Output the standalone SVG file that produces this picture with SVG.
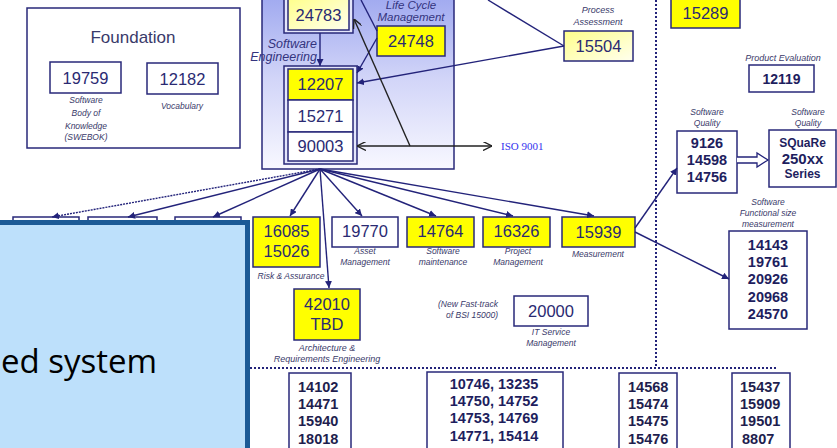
<svg xmlns="http://www.w3.org/2000/svg" width="837" height="448" viewBox="0 0 837 448">
<defs>
  <linearGradient id="seGrad" x1="0" y1="0" x2="0" y2="1">
    <stop offset="0" stop-color="#9ca6ef"/>
    <stop offset="0.5" stop-color="#d2d5f8"/>
    <stop offset="1" stop-color="#f8f8ff"/>
  </linearGradient>
  <linearGradient id="paleY" x1="0" y1="0" x2="1" y2="1">
    <stop offset="0" stop-color="#ffff8a"/>
    <stop offset="1" stop-color="#ffffee"/>
  </linearGradient>
  <marker id="ah" viewBox="0 0 10 10" refX="10" refY="5" markerWidth="7" markerHeight="7" markerUnits="userSpaceOnUse" orient="auto">
    <path d="M0,0 L10,5 L0,10 Z" fill="#23237a"/>
  </marker>
  <marker id="ao" viewBox="0 0 10 10" refX="10" refY="5" markerWidth="9" markerHeight="9" markerUnits="userSpaceOnUse" orient="auto-start-reverse">
    <path d="M0,0 L10,5 L0,10" fill="none" stroke="#222" stroke-width="1.5"/>
  </marker>
</defs>
<style>
  .bx { fill: #ffffff; stroke: #28287a; stroke-width: 1.5; }
  .yb { fill: #ffff00; stroke: #28287a; stroke-width: 1.5; }
  .py { fill: url(#paleY); stroke: #28287a; stroke-width: 1.5; }
  .num { font-family: "Liberation Sans", Arial, sans-serif; font-size: 16.5px; fill: #2a2a72; text-anchor: middle; }
  .bn { font-family: "Liberation Sans", Arial, sans-serif; font-size: 14.5px; font-weight: bold; fill: #1e1e5e; text-anchor: middle; }
  .bl { font-family: "Liberation Sans", Arial, sans-serif; font-size: 14.5px; font-weight: bold; fill: #1e1e4e; }
  .lb { font-family: "Liberation Sans", Arial, sans-serif; font-size: 8.5px; font-style: italic; fill: #3a3a6a; text-anchor: middle; }
  .lbm { font-family: "Liberation Sans", Arial, sans-serif; font-size: 11.5px; font-style: italic; fill: #34347e; text-anchor: middle; }
  .cn { fill: none; stroke: #23237a; stroke-width: 1.4; }
  .ck { fill: none; stroke: #222; stroke-width: 1.4; }
  .dot { fill: none; stroke: #23237a; stroke-width: 2; stroke-dasharray: 2 2; }
</style>

<g id="dividers">
  <line class="dot" x1="656" y1="0" x2="656" y2="368"/>
  <line class="dot" x1="250" y1="368" x2="778" y2="368"/>
</g>

<g id="foundation">
  <rect x="27" y="8" width="213" height="140" fill="#fff" stroke="#28287a" stroke-width="1.5"/>
  <text x="133" y="43" font-family="Liberation Sans, Arial, sans-serif" font-size="17" fill="#3a3a6a" text-anchor="middle">Foundation</text>
</g>
<g id="n19759">
  <rect class="bx" x="50" y="62" width="71" height="31"/>
  <text class="num" x="85.5" y="84">19759</text>
  <text class="lb" x="86" y="103">Software</text>
  <text class="lb" x="86" y="116">Body of</text>
  <text class="lb" x="86" y="129">Knowledge</text>
  <text class="lb" x="86" y="140">(SWEBOK)</text>
</g>
<g id="n12182">
  <rect class="bx" x="147" y="63" width="71" height="31"/>
  <text class="num" x="182.5" y="84.5">12182</text>
  <text class="lb" x="182" y="109">Vocabulary</text>
</g>

<g id="se-panel">
  <rect x="262" y="-10" width="192" height="179" fill="url(#seGrad)" stroke="#28287a" stroke-width="1.5"/>
  <text class="lbm" x="317" y="48" style="text-anchor:end;font-size:12.5px">Software</text>
  <text class="lbm" x="317" y="61" style="text-anchor:end;font-size:12.5px">Engineering</text>
  <text class="lbm" x="411" y="9">Life Cycle</text>
  <text class="lbm" x="411" y="21">Management</text>
</g>
<g id="n24783">
  <rect x="284" y="-5" width="69" height="38" fill="#e4e6fb" stroke="#28287a" stroke-width="1.5"/>
  <rect class="py" x="288" y="-2" width="61" height="32"/>
  <text class="num" x="318.5" y="21">24783</text>
</g>
<g id="n24748">
  <rect class="yb" x="377" y="26" width="68" height="30"/>
  <text class="num" x="411" y="47">24748</text>
</g>
<g id="stack">
  <rect x="284" y="66" width="73" height="98" fill="#e4e6fb" stroke="#28287a" stroke-width="1.5"/>
  <rect class="yb" x="288" y="69" width="65" height="31"/>
  <text class="num" x="320.5" y="90">12207</text>
  <rect class="bx" x="288" y="100" width="65" height="32"/>
  <text class="num" x="320.5" y="122">15271</text>
  <rect class="bx" x="288" y="132" width="65" height="29"/>
  <text class="num" x="320.5" y="152">90003</text>
</g>
<g id="iso9001">
  <text x="501" y="150" font-family="Liberation Serif, Times New Roman, serif" font-size="11" fill="#3333ee">ISO 9001</text>
</g>
<g id="n15504">
  <rect class="py" x="564" y="31" width="69" height="30"/>
  <text class="num" x="598.5" y="52">15504</text>
  <text class="lb" x="598" y="13" style="font-size:9px">Process</text>
  <text class="lb" x="598" y="25" style="font-size:9px">Assessment</text>
</g>
<g id="n15289">
  <rect class="yb" x="671" y="-5" width="69" height="33"/>
  <text class="num" x="705.5" y="19">15289</text>
</g>
<g id="n12119">
  <text class="lb" x="783" y="61" style="font-size:9px">Product Evaluation</text>
  <rect class="bx" x="749" y="65" width="65" height="27"/>
  <text class="bn" x="781.5" y="83.5" style="font-size:14px">12119</text>
</g>
<g id="swquality">
  <text class="lb" x="707" y="115">Software</text>
  <text class="lb" x="707" y="126">Quality</text>
  <rect class="bx" x="677" y="131" width="60" height="62"/>
  <text class="bn" x="707" y="148">9126</text>
  <text class="bn" x="707" y="165">14598</text>
  <text class="bn" x="707" y="182">14756</text>
</g>
<g id="square">
  <text class="lb" x="808" y="115">Software</text>
  <text class="lb" x="808" y="126">Quality</text>
  <rect class="bx" x="769" y="130" width="67" height="57"/>
  <text class="bn" x="802.5" y="147" style="font-size:12px">SQuaRe</text>
  <text class="bn" x="802.5" y="164" style="font-size:15px">250xx</text>
  <text class="bn" x="802.5" y="178" style="font-size:12px">Series</text>
</g>
<g id="fsm">
  <text class="lb" x="768" y="205">Software</text>
  <text class="lb" x="768" y="216">Functional size</text>
  <text class="lb" x="768" y="227">measurement</text>
  <rect class="bx" x="729" y="231" width="78" height="98"/>
  <text class="bn" x="768" y="250">14143</text>
  <text class="bn" x="768" y="267">19761</text>
  <text class="bn" x="768" y="284">20926</text>
  <text class="bn" x="768" y="302">20968</text>
  <text class="bn" x="768" y="319">24570</text>
</g>

<g id="hidden-left">
  <rect class="bx" x="13" y="217" width="66" height="30"/>
  <rect class="bx" x="88" y="217" width="69" height="30"/>
  <rect class="bx" x="175" y="217" width="66" height="30"/>
</g>
<g id="n16085">
  <rect class="yb" x="253" y="217" width="67" height="50"/>
  <text class="num" x="286.5" y="237">16085</text>
  <text class="num" x="286.5" y="257">15026</text>
  <text class="lb" x="291" y="279">Risk &amp; Assurance</text>
</g>
<g id="n19770">
  <rect class="bx" x="332" y="217" width="66" height="30"/>
  <text class="num" x="365" y="237">19770</text>
  <text class="lb" x="365" y="254">Asset</text>
  <text class="lb" x="365" y="265">Management</text>
</g>
<g id="n14764">
  <rect class="yb" x="407" y="217" width="67" height="30"/>
  <text class="num" x="440.5" y="237">14764</text>
  <text class="lb" x="443" y="254">Software</text>
  <text class="lb" x="443" y="265">maintenance</text>
</g>
<g id="n16326">
  <rect class="yb" x="483" y="217" width="67" height="30"/>
  <text class="num" x="516.5" y="237">16326</text>
  <text class="lb" x="518" y="254">Project</text>
  <text class="lb" x="518" y="265">Management</text>
</g>
<g id="n15939">
  <rect class="yb" x="562" y="217" width="73" height="30"/>
  <text class="num" x="598.5" y="238">15939</text>
  <text class="lb" x="598" y="257">Measurement</text>
</g>
<g id="n42010">
  <rect class="yb" x="294" y="289" width="66" height="51"/>
  <text class="num" x="327" y="310">42010</text>
  <text class="num" x="327" y="330">TBD</text>
  <text class="lb" x="327" y="351" style="font-size:9px">Architecture &amp;</text>
  <text class="lb" x="327" y="362" style="font-size:9px">Requirements Engineering</text>
</g>
<g id="fasttrack">
  <text class="lb" x="498" y="307" style="text-anchor:end">(New Fast-track</text>
  <text class="lb" x="498" y="318" style="text-anchor:end">of BSI 15000)</text>
</g>
<g id="n20000">
  <rect class="bx" x="514" y="296" width="74" height="30"/>
  <text class="num" x="551" y="316.5">20000</text>
  <text class="lb" x="551" y="335">IT Service</text>
  <text class="lb" x="551" y="346">Management</text>
</g>

<g id="b14102">
  <rect class="bx" x="289" y="373" width="62" height="90"/>
  <text class="bl" x="298" y="392">14102</text>
  <text class="bl" x="298" y="409">14471</text>
  <text class="bl" x="298" y="426">15940</text>
  <text class="bl" x="298" y="444">18018</text>
</g>
<g id="b10746">
  <rect class="bx" x="427" y="372" width="136" height="90"/>
  <text class="bn" x="494" y="389">10746, 13235</text>
  <text class="bn" x="494" y="406">14750, 14752</text>
  <text class="bn" x="494" y="423">14753, 14769</text>
  <text class="bn" x="494" y="441">14771, 15414</text>
</g>
<g id="b14568">
  <rect class="bx" x="619" y="373" width="58" height="90"/>
  <text class="bl" x="628" y="392">14568</text>
  <text class="bl" x="628" y="409">15474</text>
  <text class="bl" x="628" y="426">15475</text>
  <text class="bl" x="628" y="444">15476</text>
</g>
<g id="b15437">
  <rect class="bx" x="732" y="373" width="58" height="90"/>
  <text class="bl" x="740" y="392">15437</text>
  <text class="bl" x="740" y="409">15909</text>
  <text class="bl" x="740" y="426">19501</text>
  <text class="bl" x="742" y="444">8807</text>
</g>

<g id="connectors">
  <line class="cn" x1="320" y1="33" x2="320" y2="66" marker-end="url(#ah)"/>
  <line class="cn" x1="377" y1="38" x2="357" y2="73" marker-end="url(#ah)"/>
  <line class="cn" x1="564" y1="46" x2="357" y2="83" marker-end="url(#ah)"/>
  <line class="cn" x1="564" y1="46" x2="488" y2="0"/>
  <line class="cn" x1="361" y1="0" x2="377" y2="31"/>
  <line class="ck" x1="410" y1="146" x2="354" y2="19" marker-end="url(#ao)"/>
  <line class="ck" x1="357" y1="146" x2="492" y2="146" marker-start="url(#ao)" marker-end="url(#ao)"/>
  <line class="cn" x1="320" y1="169" x2="52" y2="217" stroke-dasharray="2 1" marker-end="url(#ah)"/>
  <line class="cn" x1="320" y1="169" x2="128" y2="217" marker-end="url(#ah)"/>
  <line class="cn" x1="320" y1="169" x2="213" y2="217" marker-end="url(#ah)"/>
  <line class="cn" x1="320" y1="169" x2="290" y2="216" marker-end="url(#ah)"/>
  <line class="cn" x1="320" y1="169" x2="329" y2="288" marker-end="url(#ah)"/>
  <line class="cn" x1="320" y1="169" x2="362" y2="216" marker-end="url(#ah)"/>
  <line class="cn" x1="320" y1="169" x2="436" y2="216" marker-end="url(#ah)"/>
  <line class="cn" x1="320" y1="169" x2="513" y2="216" marker-end="url(#ah)"/>
  <line class="cn" x1="320" y1="169" x2="594" y2="216" marker-end="url(#ah)"/>
  <line class="cn" x1="635" y1="228" x2="677" y2="168" marker-end="url(#ah)"/>
  <line class="cn" x1="635" y1="232" x2="729" y2="279" marker-end="url(#ah)"/>
  <path d="M737,157 H757 V153 L768,160 L757,167 V163 H737" fill="#fff" stroke="#23237a" stroke-width="1.3"/>
</g>

<g id="overlay">
  <rect x="-10" y="222.5" width="257.5" height="250" fill="#bde0fb" stroke="#1b5a96" stroke-width="5"/>
  <text x="1" y="373" font-family="Open Sans, Liberation Sans, sans-serif" font-size="33" fill="#000">ed system</text>
</g>
</svg>
